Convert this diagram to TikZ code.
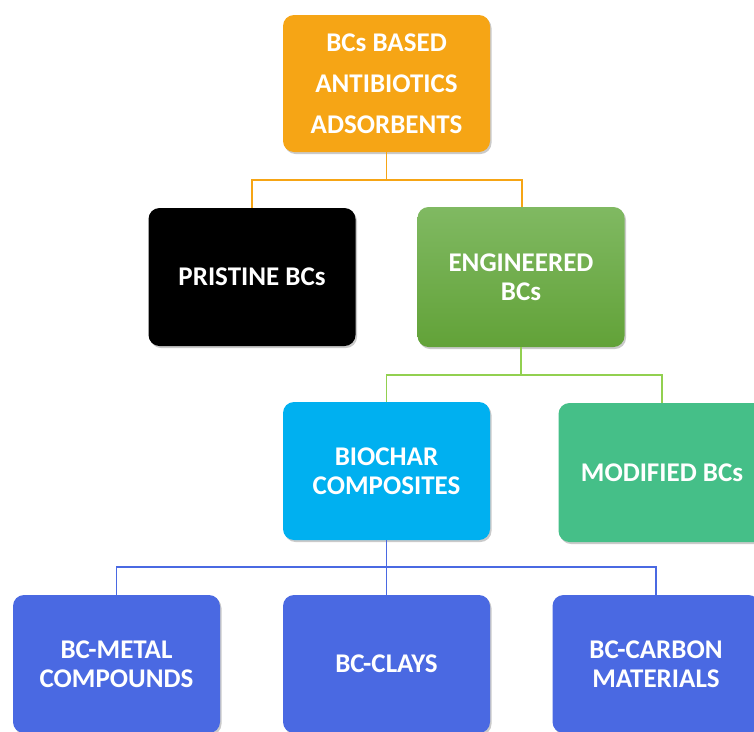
\documentclass[tikz,border=0pt]{standalone}
\usepackage{fontspec}
\setmainfont{Carlito}
\usetikzlibrary{shadows}
\definecolor{orangeC}{HTML}{F6A515}
\definecolor{greenTop}{HTML}{80B962}
\definecolor{greenBot}{HTML}{62A238}
\definecolor{greenLine}{HTML}{92D050}
\definecolor{skyC}{HTML}{00B0F0}
\definecolor{modC}{HTML}{45BF88}
\definecolor{blueC}{HTML}{4A69E2}
\begin{document}
\begin{tikzpicture}[x=1pt,y=-1pt,
  box/.style={rectangle, rounded corners=11pt, minimum width=207pt, minimum height=138pt,
    text=white, align=center, inner sep=0pt,
    font=\fontsize{27pt}{29pt}\selectfont\bfseries,
    drop shadow={shadow xshift=1.5pt, shadow yshift=-2pt, opacity=0.35, fill=black!60}},
  link/.style={line width=1.6pt}]
\useasboundingbox (0,0) rectangle (754,731);
\clip (0,0) rectangle (754,731);
\node[box, fill=orangeC, minimum height=137pt,
  font=\fontsize{27pt}{41pt}\selectfont\bfseries] (top) at (386.5,83.5) {BCs BASED\\ANTIBIOTICS\\ADSORBENTS};
\node[box, fill=black] (pristine) at (252,277) {PRISTINE BCs};
\node[box, top color=greenTop, bottom color=greenBot, minimum height=140pt] (eng) at (521,277) {ENGINEERED\\BCs};
\node[box, fill=skyC] (bio) at (386.5,471) {BIOCHAR\\COMPOSITES};
\node[box, fill=modC, minimum height=139pt] (mod) at (662,472.5) {MODIFIED BCs};
\node[box, fill=blueC] (metal) at (116.5,664) {BC-METAL\\COMPOUNDS};
\node[box, fill=blueC] (clays) at (386.5,664) {BC-CLAYS};
\node[box, fill=blueC] (carbon) at (656,664) {BC-CARBON\\MATERIALS};
\draw[link, orangeC] (top.south) -- ++(0,27.5) coordinate (j1) -| (pristine.north);
\draw[link, orangeC] (j1) -| ([xshift=1pt]eng.north);
\draw[link, greenLine] (eng.south) -- ++(0,27.5) coordinate (j2) -| (bio.north);
\draw[link, greenLine] (j2) -| (mod.north);
\draw[link, blueC] (bio.south) -- ++(0,27) coordinate (j3) -| (metal.north);
\draw[link, blueC] (j3) -- (clays.north);
\draw[link, blueC] (j3) -| (carbon.north);
\end{tikzpicture}
\end{document}
